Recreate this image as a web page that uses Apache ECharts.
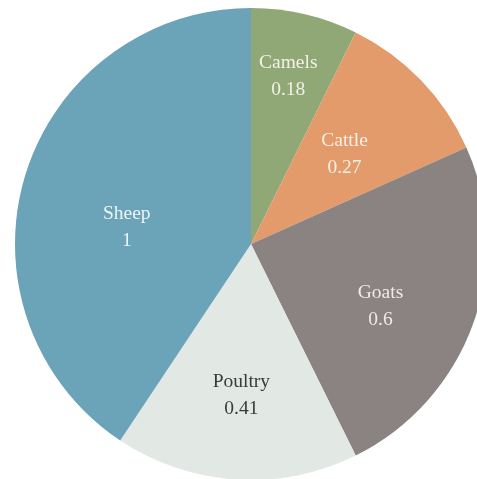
<!DOCTYPE html>
<html>
<head>
<meta charset="utf-8">
<script src="https://cdn.jsdelivr.net/npm/echarts@6/dist/echarts.min.js"></script>
<style>
  html, body { margin: 0; padding: 0; background: #ffffff; }
  #chart { width: 477px; height: 479px; }
</style>
</head>
<body>
<div id="chart"></div>
<script>
// Livestock shares drawn as a pie, clockwise from 12 o'clock
const categories = ['Camels', 'Cattle', 'Goats', 'Poultry', 'Sheep'];
const values = [0.18, 0.27, 0.6, 0.41, 1];

// Styling
const sliceColors = ['#8fa876', '#e39b6b', '#8b8282', '#e2e8e3', '#6ba3b8'];
const labelColors = ['#f4f1e6', '#f7efe3', '#eeeaea', '#3a3a3a', '#eef5f7'];
const labelRadiusFraction = [0.73, 0.55, 0.61, 0.64, 0.55];
const labelNudge = [[-2, 0], [0, 0], [-6, 14], [0, 1], [0, 21]];
const CX = 251, CY = 244, R = 236;

const total = values.reduce((a, b) => a + b, 0);
const midAngles = [];
let acc = 0;
values.forEach(v => {
  midAngles.push((acc + v / 2) / total * 2 * Math.PI);
  acc += v;
});

const chart = echarts.init(document.getElementById('chart'), null, { renderer: 'canvas' });
chart.setOption({
  animation: false,
  series: [{
    type: 'pie',
    center: [CX, CY],
    radius: [0, R],
    startAngle: 90,
    clockwise: true,
    itemStyle: { borderWidth: 0 },
    emphasis: { disabled: true },
    label: {
      show: true,
      position: 'inside',
      fontFamily: 'Liberation Serif',
      fontSize: 19.5,
      lineHeight: 27,
      align: 'center',
      verticalAlign: 'middle',
      formatter: p => p.name + '\n' + p.value
    },
    labelLine: { show: false },
    labelLayout: p => {
      const i = p.dataIndex;
      const a = midAngles[i];
      const d = R * labelRadiusFraction[i];
      return {
        x: CX + d * Math.sin(a) + labelNudge[i][0],
        y: CY - d * Math.cos(a) + labelNudge[i][1],
        align: 'center',
        verticalAlign: 'middle'
      };
    },
    data: categories.map((c, i) => ({
      name: c,
      value: values[i],
      itemStyle: { color: sliceColors[i] },
      label: { color: labelColors[i] }
    }))
  }]
});
</script>
</body>
</html>
